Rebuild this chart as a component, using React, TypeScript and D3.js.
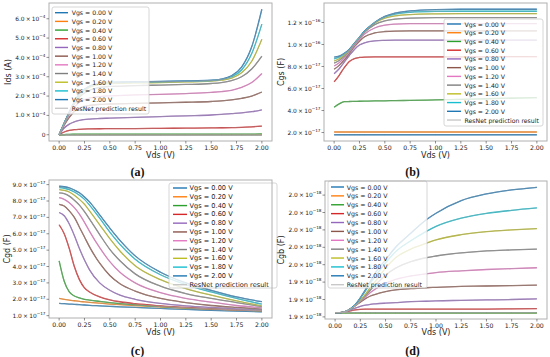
import React from "react";
import * as d3 from "d3";

// ---------- shared legend / series info ----------
const vgsLabels = ["0.00", "0.20", "0.40", "0.60", "0.80", "1.00", "1.20", "1.40", "1.60", "1.80", "2.00"];
const seriesColors = ["#1f77b4", "#ff7f0e", "#2ca02c", "#d62728", "#9467bd", "#8c564b", "#e377c2", "#7f7f7f", "#bcbd22", "#17becf", "#1f77b4"];
const predictionLabel = "ResNet prediction result";
const xTicks = [0, 0.25, 0.5, 0.75, 1.0, 1.25, 1.5, 1.75, 2.0];

// ---------- (a) Ids (unit 1e-4 A) ----------
const idsVds = [0, 0.05, 0.1, 0.15, 0.2, 0.3, 0.4, 0.5, 0.75, 1.0, 1.25, 1.5, 1.6, 1.7, 1.8, 1.9, 2.0];
const idsCurves = [
  [0, 0, 0, 0, 0, 0, 0, 0, 0, 0, 0, 0, 0, 0, 0, 0, 0],
  [0, 0.002, 0.003, 0.003, 0.003, 0.003, 0.003, 0.003, 0.003, 0.003, 0.003, 0.003, 0.003, 0.003, 0.003, 0.003, 0.004],
  [0, 0.01, 0.02, 0.025, 0.03, 0.03, 0.03, 0.03, 0.03, 0.03, 0.03, 0.035, 0.035, 0.035, 0.035, 0.035, 0.04],
  [0, 0.14, 0.22, 0.26, 0.28, 0.3, 0.31, 0.315, 0.32, 0.33, 0.34, 0.35, 0.36, 0.37, 0.38, 0.41, 0.45],
  [0, 0.35, 0.55, 0.67, 0.74, 0.81, 0.84, 0.86, 0.9, 0.94, 0.98, 1.02, 1.05, 1.09, 1.13, 1.19, 1.29],
  [0, 0.5, 0.9, 1.2, 1.38, 1.52, 1.57, 1.59, 1.62, 1.65, 1.68, 1.72, 1.75, 1.8, 1.88, 2.0, 2.21],
  [0, 0.55, 1.05, 1.42, 1.68, 1.9, 1.97, 2.01, 2.06, 2.09, 2.13, 2.19, 2.23, 2.3, 2.45, 2.7, 3.17],
  [0, 0.58, 1.12, 1.6, 1.95, 2.3, 2.45, 2.5, 2.54, 2.57, 2.6, 2.65, 2.7, 2.8, 3.0, 3.4, 4.07],
  [0, 0.6, 1.15, 1.65, 2.05, 2.45, 2.6, 2.65, 2.68, 2.7, 2.73, 2.77, 2.82, 2.93, 3.2, 3.8, 4.94],
  [0, 0.6, 1.17, 1.68, 2.1, 2.5, 2.65, 2.7, 2.72, 2.74, 2.76, 2.8, 2.86, 3.0, 3.35, 4.2, 5.72],
  [0, 0.6, 1.18, 1.7, 2.12, 2.52, 2.67, 2.72, 2.74, 2.76, 2.78, 2.82, 2.88, 3.05, 3.5, 4.55, 6.49],
];
const idsTicks = [0, 1, 2, 3, 4, 5, 6];
const idsTickMantissa = ["0", "1.0", "2.0", "3.0", "4.0", "5.0", "6.0"];
const idsTickExponent = ["", "−4", "−4", "−4", "−4", "−4", "−4"];

// ---------- (b) Cgs (unit 1e-17 F) ----------
const cgsVds = [0, 0.05, 0.1, 0.15, 0.2, 0.25, 0.3, 0.4, 0.5, 0.6, 0.75, 1.0, 1.25, 1.5, 2.0];
const cgsCurves = [
  [1.8, 1.8, 1.8, 1.8, 1.8, 1.8, 1.8, 1.8, 1.8, 1.8, 1.8, 1.8, 1.8, 1.8, 1.8],
  [2.05, 2.05, 2.05, 2.05, 2.05, 2.05, 2.05, 2.05, 2.05, 2.05, 2.05, 2.05, 2.05, 2.05, 2.05],
  [4.3, 4.6, 4.8, 4.82, 4.83, 4.84, 4.85, 4.87, 4.88, 4.9, 4.92, 4.97, 5.02, 5.07, 5.17],
  [6.6, 7.2, 7.9, 8.45, 8.72, 8.82, 8.86, 8.88, 8.88, 8.88, 8.88, 8.88, 8.88, 8.88, 8.9],
  [7.35, 7.8, 8.4, 9.0, 9.55, 9.95, 10.15, 10.33, 10.38, 10.4, 10.4, 10.4, 10.4, 10.4, 10.4],
  [7.75, 8.1, 8.6, 9.2, 9.8, 10.3, 10.7, 11.05, 11.18, 11.22, 11.23, 11.23, 11.23, 11.23, 11.23],
  [8.05, 8.35, 8.8, 9.35, 9.95, 10.5, 10.95, 11.5, 11.75, 11.85, 11.9, 11.9, 11.9, 11.9, 11.9],
  [8.3, 8.55, 8.95, 9.45, 10.05, 10.6, 11.1, 11.8, 12.15, 12.3, 12.4, 12.45, 12.45, 12.45, 12.45],
  [8.5, 8.7, 9.05, 9.5, 10.1, 10.65, 11.15, 11.95, 12.4, 12.6, 12.72, 12.78, 12.8, 12.8, 12.8],
  [8.7, 8.85, 9.15, 9.55, 10.1, 10.65, 11.2, 12.0, 12.5, 12.75, 12.92, 13.0, 13.02, 13.02, 13.02],
  [8.85, 8.95, 9.2, 9.55, 10.1, 10.65, 11.2, 12.0, 12.55, 12.85, 13.05, 13.17, 13.2, 13.2, 13.2],
];
const cgsTicks = [2, 4, 6, 8, 10, 12];
const cgsTickMantissa = ["2.0", "4.0", "6.0", "8.0", "1.0", "1.2"];
const cgsTickExponent = ["−17", "−17", "−17", "−17", "−16", "−16"];

// ---------- (c) Cgd (unit 1e-17 F) ----------
const cgdVds = [0, 0.05, 0.1, 0.15, 0.2, 0.25, 0.3, 0.4, 0.5, 0.6, 0.75, 1.0, 1.25, 1.5, 1.75, 2.0];
const cgdCurves = [
  [1.75, 1.73, 1.71, 1.69, 1.67, 1.65, 1.63, 1.6, 1.57, 1.54, 1.5, 1.44, 1.38, 1.33, 1.28, 1.24],
  [2.05, 2.0, 1.95, 1.91, 1.87, 1.84, 1.81, 1.76, 1.71, 1.67, 1.62, 1.54, 1.46, 1.4, 1.34, 1.29],
  [4.35, 3.1, 2.45, 2.2, 2.08, 2.0, 1.95, 1.87, 1.8, 1.74, 1.66, 1.56, 1.48, 1.41, 1.35, 1.3],
  [6.55, 6.0, 5.1, 4.0, 3.2, 2.7, 2.45, 2.15, 1.97, 1.85, 1.73, 1.6, 1.5, 1.42, 1.36, 1.31],
  [7.3, 7.1, 6.6, 5.9, 5.1, 4.4, 3.8, 3.0, 2.55, 2.25, 2.0, 1.75, 1.6, 1.5, 1.42, 1.36],
  [7.8, 7.7, 7.4, 7.0, 6.4, 5.8, 5.2, 4.2, 3.45, 2.95, 2.5, 2.05, 1.8, 1.62, 1.5, 1.4],
  [8.2, 8.1, 7.9, 7.6, 7.2, 6.7, 6.15, 5.15, 4.3, 3.65, 3.0, 2.4, 2.05, 1.82, 1.62, 1.48],
  [8.5, 8.45, 8.3, 8.05, 7.75, 7.35, 6.9, 5.95, 5.05, 4.35, 3.55, 2.8, 2.35, 2.05, 1.8, 1.55],
  [8.7, 8.65, 8.55, 8.35, 8.1, 7.8, 7.4, 6.55, 5.7, 4.95, 4.05, 3.2, 2.65, 2.25, 1.9, 1.6],
  [8.82, 8.78, 8.7, 8.55, 8.35, 8.1, 7.75, 6.95, 6.1, 5.35, 4.45, 3.5, 2.9, 2.45, 2.05, 1.7],
  [8.9, 8.87, 8.8, 8.67, 8.5, 8.25, 7.95, 7.15, 6.35, 5.6, 4.65, 3.65, 3.0, 2.55, 2.15, 1.85],
];
const cgdTicks = [1, 2, 3, 4, 5, 6, 7, 8, 9];
const cgdTickMantissa = ["1.0", "2.0", "3.0", "4.0", "5.0", "6.0", "7.0", "8.0", "9.0"];
const cgdTickExponent = ["−17", "−17", "−17", "−17", "−17", "−17", "−17", "−17", "−17"];

// ---------- (d) Cgb (unit 1e-18 F) ----------
const cgbVds = [0, 0.05, 0.1, 0.15, 0.2, 0.25, 0.3, 0.35, 0.4, 0.5, 0.6, 0.75, 0.9, 1.0, 1.25, 1.5, 1.75, 2.0];
const cgbCurves = [
  [1.905, 1.905, 1.905, 1.905, 1.905, 1.905, 1.905, 1.905, 1.905, 1.905, 1.905, 1.905, 1.905, 1.905, 1.905, 1.905, 1.905, 1.905],
  [1.905, 1.905, 1.905, 1.905, 1.905, 1.905, 1.905, 1.905, 1.905, 1.905, 1.905, 1.905, 1.905, 1.905, 1.905, 1.905, 1.905, 1.905],
  [1.9048, 1.9048, 1.9048, 1.9048, 1.9048, 1.9048, 1.9048, 1.9048, 1.9048, 1.9048, 1.9048, 1.9048, 1.9048, 1.9048, 1.9048, 1.9048, 1.9048, 1.9048],
  [1.905, 1.905, 1.9055, 1.9068, 1.908, 1.9087, 1.909, 1.909, 1.909, 1.909, 1.909, 1.909, 1.909, 1.909, 1.909, 1.909, 1.9092, 1.9095],
  [1.905, 1.905, 1.906, 1.908, 1.91, 1.912, 1.9135, 1.9145, 1.915, 1.9158, 1.9165, 1.9175, 1.918, 1.9185, 1.919, 1.9195, 1.92, 1.9207],
  [1.905, 1.905, 1.906, 1.909, 1.913, 1.917, 1.921, 1.924, 1.926, 1.929, 1.931, 1.9325, 1.9335, 1.934, 1.935, 1.9355, 1.936, 1.9365],
  [1.905, 1.905, 1.906, 1.909, 1.913, 1.918, 1.923, 1.928, 1.932, 1.9385, 1.943, 1.947, 1.9495, 1.951, 1.953, 1.9545, 1.9555, 1.9565],
  [1.905, 1.905, 1.906, 1.909, 1.913, 1.9185, 1.9245, 1.931, 1.937, 1.948, 1.956, 1.9635, 1.968, 1.97, 1.9735, 1.9758, 1.977, 1.978],
  [1.905, 1.905, 1.906, 1.909, 1.913, 1.919, 1.926, 1.934, 1.941, 1.956, 1.968, 1.978, 1.9845, 1.9885, 1.9945, 1.998, 2.0, 2.0015],
  [1.905, 1.905, 1.906, 1.909, 1.914, 1.9215, 1.93, 1.939, 1.947, 1.962, 1.975, 1.9875, 1.998, 2.004, 2.0135, 2.019, 2.0225, 2.0253],
  [1.905, 1.905, 1.906, 1.909, 1.914, 1.922, 1.931, 1.941, 1.951, 1.9655, 1.98, 1.9962, 2.0115, 2.0192, 2.0337, 2.0414, 2.046, 2.049],
];
const cgbTicks = [1.9, 1.92, 1.94, 1.96, 1.98, 2.0, 2.02, 2.04];
const cgbTickMantissa = ["1.9", "1.9", "1.9", "2.0", "2.0", "2.0", "2.0", "2.0"];
const cgbTickExponent = ["−18", "−18", "−18", "−18", "−18", "−18", "−18", "−18"];

// ---------- layout (positions / styles only) ----------
type Layout = {
  l: number; r: number; t: number; b: number;
  yLabelX: number; xLabelY: number; tagX: number; tagY: number;
  lg: { x: number; y: number; w: number; h: number; first: number; step: number; hx0: number; hx1: number; tx: number; fs: number };
};

const FONT = "DejaVu Sans, Verdana, sans-serif";

function Panel(props: {
  id: string; layout: Layout; vds: number[]; curves: number[][];
  ticks: number[]; mant: string[]; expo: string[]; yLabel: string; tag: string;
}) {
  const { id, layout: L, vds, curves, ticks, mant, expo, yLabel, tag } = props;
  const x = d3.scaleLinear().domain([-0.1, 2.1]).range([L.l, L.r]);
  const all = curves.flat();
  const lo = d3.min(all) as number;
  const hi = d3.max(all) as number;
  const m = (hi - lo) * 0.05;
  const y = d3.scaleLinear().domain([lo - m, hi + m]).range([L.b, L.t]);
  const line = d3
    .line<number>()
    .x((_, i) => x(vds[i]))
    .y((d) => y(d))
    .curve(d3.curveMonotoneX);
  const clipId = "clip-" + id;
  return (
    <g>
      <defs>
        <clipPath id={clipId}>
          <rect x={L.l} y={L.t} width={L.r - L.l} height={L.b - L.t} />
        </clipPath>
      </defs>
      <rect x={L.l} y={L.t} width={L.r - L.l} height={L.b - L.t} fill="white" />
      <g clipPath={`url(#${clipId})`}>
        {curves.map((c, i) => (
          <path key={"c" + i} d={line(c) || ""} fill="none" stroke={seriesColors[i]} strokeWidth={1.3} />
        ))}
        {curves.map((c, i) => (
          <path key={"p" + i} d={line(c) || ""} fill="none" stroke="#a8a8a8" strokeOpacity={0.55} strokeWidth={0.9} />
        ))}
      </g>
      {/* legend */}
      <rect x={L.lg.x} y={L.lg.y} width={L.lg.w} height={L.lg.h} rx={2} fill="white" fillOpacity={0.8} stroke="#cccccc" strokeWidth={0.8} />
      {vgsLabels.map((v, i) => {
        const yy = L.lg.first + i * L.lg.step;
        return (
          <g key={"lg" + i}>
            <line x1={L.lg.hx0} x2={L.lg.hx1} y1={yy} y2={yy} stroke={seriesColors[i]} strokeWidth={1.4} />
            <text x={L.lg.tx} y={yy} fontSize={L.lg.fs} fontFamily={FONT} fill="#222" dominantBaseline="central">
              {`Vgs = ${v} V`}
            </text>
          </g>
        );
      })}
      {(() => {
        const yy = L.lg.first + 11 * L.lg.step;
        return (
          <g>
            <line x1={L.lg.hx0} x2={L.lg.hx1} y1={yy} y2={yy} stroke="#c8c8c8" strokeWidth={1.4} />
            <text x={L.lg.tx} y={yy} fontSize={L.lg.fs} fontFamily={FONT} fill="#222" dominantBaseline="central">
              {predictionLabel}
            </text>
          </g>
        );
      })()}
      {/* frame */}
      <rect x={L.l} y={L.t} width={L.r - L.l} height={L.b - L.t} fill="none" stroke="#b0b0b0" strokeWidth={1} />
      {/* x ticks */}
      {xTicks.map((t) => (
        <g key={"xt" + t}>
          <line x1={x(t)} x2={x(t)} y1={L.b} y2={L.b + 2.5} stroke="#444" strokeWidth={0.6} />
          <text x={x(t)} y={L.b + 6} fontSize={6.2} fontFamily={FONT} fill="#222" textAnchor="middle" dominantBaseline="central">
            {t.toFixed(2)}
          </text>
        </g>
      ))}
      {/* y ticks */}
      {ticks.map((t, i) => (
        <g key={"yt" + i}>
          <line x1={L.l - 2.5} x2={L.l} y1={y(t)} y2={y(t)} stroke="#444" strokeWidth={0.6} />
          <text x={L.l - 3.5} y={y(t) + 2.1} fontSize={5.9} fontFamily={FONT} fill="#222" textAnchor="end">
            {expo[i] === "" ? (
              mant[i]
            ) : (
              <>
                {mant[i] + "\u2009×\u200910"}
                <tspan fontSize={4.2} dy={-2.8}>{expo[i]}</tspan>
              </>
            )}
          </text>
        </g>
      ))}
      {/* axis labels */}
      <text x={(L.l + L.r) / 2} y={L.xLabelY} fontSize={8} fontFamily={FONT} fill="#222" textAnchor="middle" dominantBaseline="central">
        Vds (V)
      </text>
      <text
        transform={`translate(${L.yLabelX},${(L.t + L.b) / 2}) rotate(-90)`}
        fontSize={8}
        fontFamily={FONT}
        fill="#222"
        textAnchor="middle"
        dominantBaseline="central"
      >
        {yLabel}
      </text>
      <text x={L.tagX} y={L.tagY} fontSize={12} fontWeight="bold" fontFamily="Liberation Serif, serif" fill="#111" textAnchor="middle" dominantBaseline="central">
        {tag}
      </text>
    </g>
  );
}

const layoutA: Layout = {
  l: 49, r: 272, t: 3, b: 141, yLabelX: 8, xLabelY: 155, tagX: 137.5, tagY: 171.5,
  lg: { x: 52, y: 7, w: 97, h: 107, first: 12.7, step: 8.69, hx0: 55, hx1: 68, tx: 71.7, fs: 6.2 },
};
const layoutB: Layout = {
  l: 324, r: 547, t: 3, b: 141, yLabelX: 281.5, xLabelY: 155, tagX: 412.5, tagY: 171.5,
  lg: { x: 444, y: 19, w: 99, h: 107, first: 24, step: 8.73, hx0: 447, hx1: 461, tx: 464.5, fs: 6.2 },
};
const layoutC: Layout = {
  l: 49, r: 272, t: 180, b: 318, yLabelX: 7.5, xLabelY: 332.5, tagX: 137.5, tagY: 351,
  lg: { x: 169, y: 183, w: 108, h: 105, first: 188, step: 8.79, hx0: 173, hx1: 187, tx: 189.5, fs: 6.6 },
};
const layoutD: Layout = {
  l: 325, r: 547, t: 181, b: 319, yLabelX: 281, xLabelY: 332.5, tagX: 412.5, tagY: 351,
  lg: { x: 328, y: 181, w: 99, h: 107, first: 187, step: 8.88, hx0: 331, hx1: 344, tx: 346.7, fs: 6.25 },
};

export default function App() {
  return (
    <svg width={550} height={357} viewBox="0 0 550 357" style={{ position: "absolute", left: 0, top: 0, background: "white" }}>
      <rect x={0} y={0} width={550} height={357} fill="white" />
      <Panel id="a" layout={layoutA} vds={idsVds} curves={idsCurves} ticks={idsTicks} mant={idsTickMantissa} expo={idsTickExponent} yLabel="Ids (A)" tag="(a)" />
      <Panel id="b" layout={layoutB} vds={cgsVds} curves={cgsCurves} ticks={cgsTicks} mant={cgsTickMantissa} expo={cgsTickExponent} yLabel="Cgs (F)" tag="(b)" />
      <Panel id="c" layout={layoutC} vds={cgdVds} curves={cgdCurves} ticks={cgdTicks} mant={cgdTickMantissa} expo={cgdTickExponent} yLabel="Cgd (F)" tag="(c)" />
      <Panel id="d" layout={layoutD} vds={cgbVds} curves={cgbCurves} ticks={cgbTicks} mant={cgbTickMantissa} expo={cgbTickExponent} yLabel="Cgb (F)" tag="(d)" />
    </svg>
  );
}
